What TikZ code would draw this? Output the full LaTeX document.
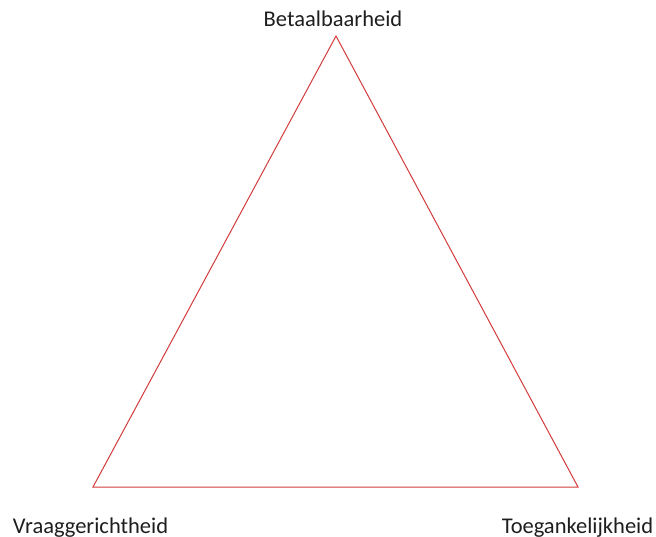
\documentclass[tikz,border=0pt]{standalone}
\usepackage{fontspec}
\setmainfont{Carlito}
\definecolor{trired}{RGB}{210,60,60}
\definecolor{lbl}{RGB}{30,30,30}
\tikzset{
  edge/.style={draw=trired, line width=1pt, line join=miter},
  lab/.style={anchor=base, inner sep=0pt, text=lbl, font=\fontsize{22.5}{27}\selectfont}
}
\begin{document}
\begin{tikzpicture}[x=1pt,y=-1pt]
\useasboundingbox (0,0) rectangle (656,537);
\coordinate (T) at (336,36);
\coordinate (L) at (93,487);
\coordinate (R) at (578,487);
\draw[edge] (T) -- (R) -- (L) -- cycle;
\node[lab] (tlab) at (333,27) {Betaalbaarheid};
\node[lab] (llab) at (90.5,533) {Vraaggerichtheid};
\node[lab] (rlab) at (577.5,533) {Toegankelijkheid};
\end{tikzpicture}
\end{document}
